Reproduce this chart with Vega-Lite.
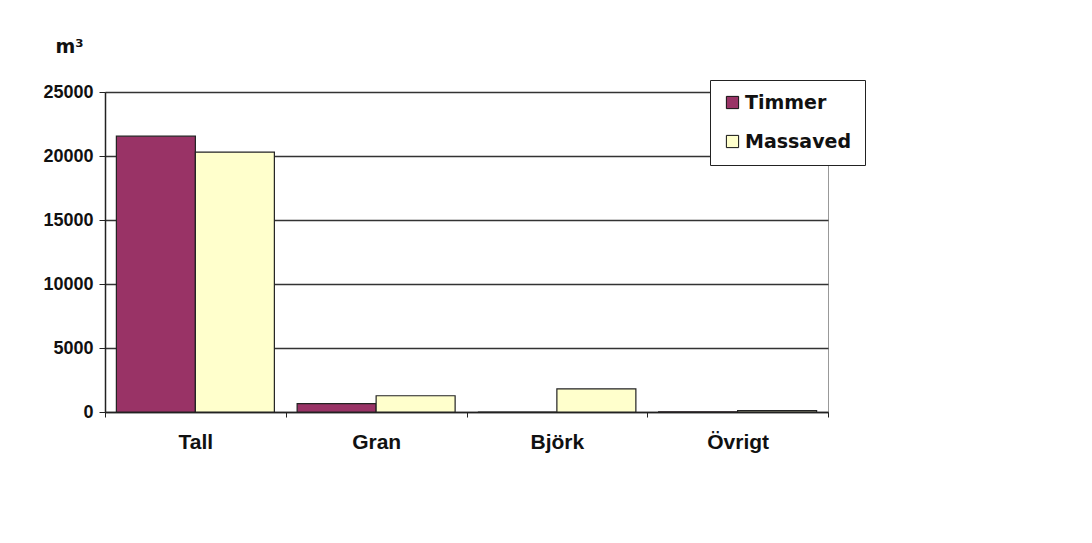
{
  "$schema": "https://vega.github.io/schema/vega-lite/v6.json",
  "autosize": "none",
  "width": 723,
  "height": 320,
  "padding": {"left": 105, "top": 92, "right": 264, "bottom": 131},
  "background": "white",
  "data": {
    "values": [
      {"art": "Tall", "sortiment": "Timmer", "m3": 21550},
      {"art": "Tall", "sortiment": "Massaved", "m3": 20300},
      {"art": "Gran", "sortiment": "Timmer", "m3": 650},
      {"art": "Gran", "sortiment": "Massaved", "m3": 1270},
      {"art": "Björk", "sortiment": "Timmer", "m3": 0},
      {"art": "Björk", "sortiment": "Massaved", "m3": 1800},
      {"art": "Övrigt", "sortiment": "Timmer", "m3": 20},
      {"art": "Övrigt", "sortiment": "Massaved", "m3": 110}
    ]
  },
  "mark": {"type": "bar", "stroke": "#222", "strokeWidth": 1.2},
  "encoding": {
    "x": {
      "field": "art", "type": "nominal",
      "sort": ["Tall", "Gran", "Björk", "Övrigt"],
      "scale": {"paddingInner": 0, "paddingOuter": 0},
      "axis": {
        "title": null, "labelAngle": 0, "tickBand": "extent",
        "labelFont": "Liberation Sans", "labelFontWeight": "bold", "labelFontSize": 21,
        "labelColor": "#111", "labelPadding": 14,
        "domainColor": "#222", "tickColor": "#222", "tickSize": 5, "domainWidth": 1.5
      }
    },
    "xOffset": {"field": "sortiment", "type": "nominal", "sort": ["Timmer", "Massaved"],
      "scale": {"paddingInner": 0, "paddingOuter": 0.144}},
    "y": {
      "field": "m3", "type": "quantitative",
      "scale": {"domain": [0, 25000], "nice": false},
      "axis": {
        "values": [0, 5000, 10000, 15000, 20000, 25000],
        "format": "d",
        "title": "m³", "titleAngle": 0, "titleX": -36, "titleY": -46,
        "titleAlign": "center", "titleBaseline": "middle",
        "titleFont": "DejaVu Sans", "titleFontWeight": "bold", "titleFontSize": 19, "titleColor": "#111",
        "labelFont": "Liberation Sans", "labelFontWeight": "bold", "labelFontSize": 18,
        "labelColor": "#111", "labelPadding": 6,
        "grid": true, "gridColor": "#333", "gridWidth": 1.3,
        "domainColor": "#222", "tickColor": "#222", "tickSize": 6, "domainWidth": 1.5
      }
    },
    "color": {
      "field": "sortiment", "type": "nominal",
      "sort": ["Timmer", "Massaved"],
      "scale": {"domain": ["Timmer", "Massaved"], "range": ["#993366", "#FFFFCC"]},
      "legend": {
        "title": null, "orient": "none", "legendX": 605, "legendY": -12,
        "fillColor": "white", "strokeColor": "#222", "padding": 13,
        "symbolType": "square", "symbolSize": 150, "symbolStrokeColor": "#111", "symbolStrokeWidth": 1,
        "symbolOpacity": 1,
        "labelFont": "DejaVu Sans", "labelFontWeight": "bold", "labelFontSize": 19,
        "labelColor": "#111", "rowPadding": 19, "labelOffset": 3
      }
    }
  },
  "config": {
    "view": {"stroke": "#999", "strokeWidth": 1}
  }
}
